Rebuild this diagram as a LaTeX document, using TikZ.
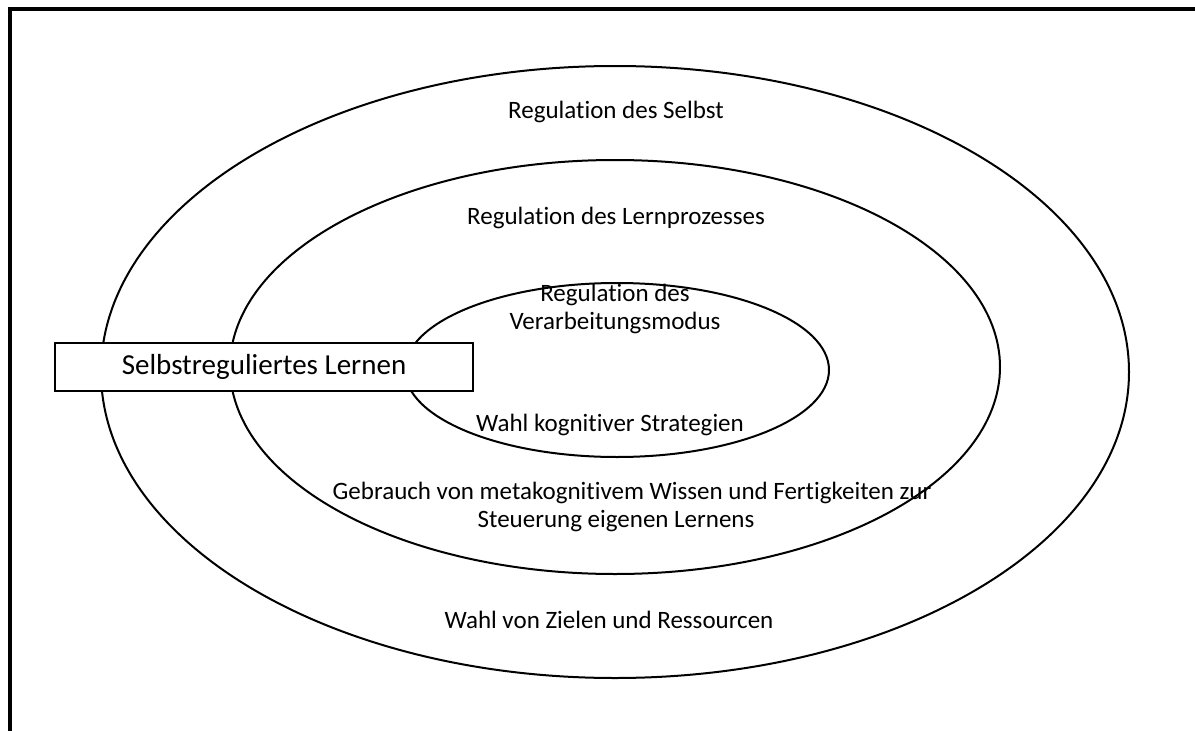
\documentclass[tikz,border=0pt]{standalone}
\usepackage{fontspec}
\setmainfont[Ligatures=NoCommon]{Carlito}
\usetikzlibrary{shapes.geometric}
\begin{document}
\begin{tikzpicture}[x=1pt,y=-1pt,
  ring/.style={draw, ellipse, line width=2pt, inner sep=0pt},
  lbl/.style={font=\fontsize{25}{28}\selectfont, align=center, inner sep=0pt},
  framebox/.style={draw, line width=1.8pt, fill=white, inner sep=0pt}]
\useasboundingbox (0,0) rectangle (1195,731);
\begin{scope}
  \clip (0,0) rectangle (1195,731);
  \draw[line width=4pt] (10,760) -- (10,9) -- (1230,9);
\end{scope}
\node[ring, minimum width=1028pt, minimum height=612pt] (outer) at (615,372) {};
\node[ring, minimum width=770pt, minimum height=414pt] (middle) at (615,367) {};
\node[ring, minimum width=424pt, minimum height=174pt] (inner) at (617,370) {};
\node[framebox, minimum width=418pt, minimum height=48pt, font=\fontsize{29}{32}\selectfont] (box) at (264,367) {Selbstreguliertes Lernen};
\node[lbl] (selbst) at (616,112) {Regulation des Selbst};
\node[lbl] (lernproz) at (616,218) {Regulation des Lernprozesses};
\node[lbl] (verarb) at (615,309) {Regulation des\\Verarbeitungsmodus};
\node[lbl] (kogn) at (610,425) {Wahl kognitiver Strategien};
\node[lbl] (meta) at (632,507) {Gebrauch von metakognitivem Wissen und Fertigkeiten zur\\\hspace*{-32pt}Steuerung eigenen Lernens};
\node[lbl] (ziele) at (609,620) {Wahl von Zielen und Ressourcen};
\end{tikzpicture}
\end{document}
